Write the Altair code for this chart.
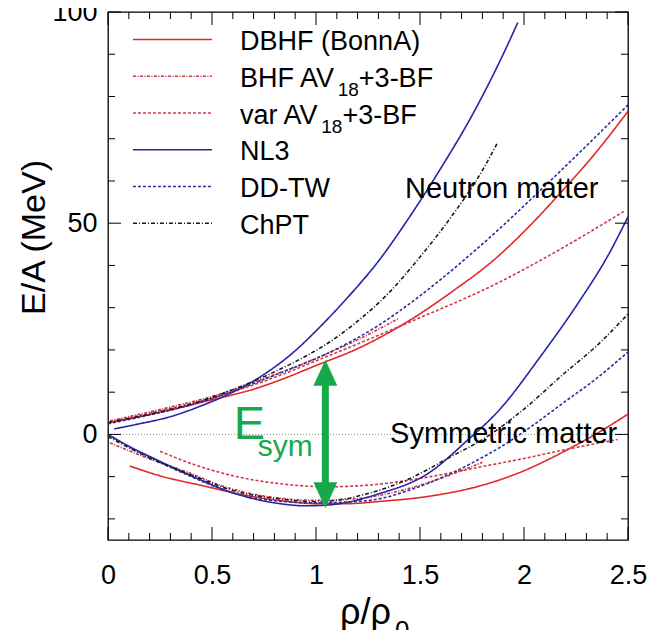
import altair as alt
import pandas as pd

FONT = "Liberation Sans"
W, H = 520, 528

MODELS = ["DBHF (BonnA)", "BHF AV18+3-BF", "var AV18+3-BF", "NL3", "DD-TW", "ChPT"]
COLORS = ["#e02828", "#cc3344", "#d03a48", "#2424aa", "#2d2d9e", "#1a1a1a"]
DASHES = [[1, 0], [3, 1.5, 1, 1.5], [3, 2], [1, 0], [3, 2], [4, 2, 1, 2]]
GREEN = "#17a84b"

# ---- neutron matter ----
dbhf_n_x = [0.01, 0.3, 0.5, 0.7, 0.85, 1.0, 1.2, 1.46, 1.66, 1.86, 2.0, 2.19, 2.35, 2.5]
dbhf_n_y = [2.8, 5.8, 8.2, 10.7, 13.3, 16.3, 20.3, 27.3, 34.0, 41.5, 48.0, 58.0, 67.0, 76.5]
bhf_n_x = [0.01, 0.25, 0.5, 0.75, 1.0, 1.2, 1.4]
bhf_n_y = [3.2, 5.9, 9.0, 13.2, 18.0, 22.4, 27.5]
var_n_x = [0.01, 0.25, 0.5, 0.75, 1.06, 1.46, 1.86, 2.18, 2.48]
var_n_y = [3.0, 5.6, 8.6, 12.6, 18.6, 26.8, 35.5, 44.0, 52.8]
nl3_n_x = [0.03, 0.15, 0.3, 0.45, 0.6, 0.75, 0.9, 1.0, 1.15, 1.3, 1.45, 1.6, 1.75, 1.9, 1.97]
nl3_n_y = [1.3, 2.5, 4.2, 6.8, 10.0, 14.2, 19.8, 24.5, 32.3, 41.0, 51.5, 63.0, 75.5, 90.0, 97.5]
ddtw_n_x = [0.0, 0.2, 0.4, 0.6, 0.8, 1.06, 1.3, 1.5, 1.7, 1.9, 2.1, 2.3, 2.5]
ddtw_n_y = [2.5, 4.6, 7.0, 10.2, 14.0, 19.3, 25.8, 32.8, 40.8, 49.5, 58.8, 68.3, 78.0]
chpt_n_x = [0.0, 0.2, 0.4, 0.6, 0.8, 0.95, 1.06, 1.2, 1.35, 1.5, 1.65, 1.8, 1.87]
chpt_n_y = [2.8, 4.8, 7.2, 10.6, 14.8, 18.5, 21.7, 26.8, 33.5, 42.0, 51.5, 62.5, 68.8]

# ---- symmetric matter ----
dbhf_s_x = [0.105, 0.25, 0.46, 0.65, 0.85, 1.0, 1.15, 1.3, 1.55, 1.78, 1.97, 2.24, 2.37, 2.5]
dbhf_s_y = [-7.5, -9.8, -12.2, -14.3, -15.8, -16.4, -16.4, -15.9, -14.6, -12.3, -9.2, -2.8, 0.8, 4.8]
bhf_s_x = [0.01, 0.2, 0.38, 0.55, 0.75, 1.0, 1.2, 1.4, 1.6, 1.8]
bhf_s_y = [-2.0, -5.8, -8.9, -12.2, -14.6, -15.6, -15.2, -13.4, -10.4, -6.6]
var_s_x = [0.25, 0.4, 0.61, 0.85, 1.06, 1.3, 1.55, 1.78, 2.0, 2.2, 2.45]
var_s_y = [-4.0, -6.9, -9.9, -11.8, -12.4, -11.8, -10.0, -7.8, -5.7, -3.6, -1.2]
nl3_s_x = [0.0, 0.1, 0.225, 0.4, 0.61, 0.8, 0.95, 1.06, 1.3, 1.54, 1.73, 1.876, 2.08, 2.27, 2.4, 2.5]
nl3_s_y = [0.0, -2.8, -5.8, -9.8, -14.0, -16.2, -16.9, -16.7, -14.1, -9.2, -1.3, 5.5, 18.5, 31.8, 42.0, 51.5]
ddtw_s_x = [0.0, 0.1, 0.225, 0.4, 0.61, 0.8, 1.0, 1.15, 1.3, 1.46, 1.62, 1.76, 1.9, 2.05, 2.19, 2.35, 2.5]
ddtw_s_y = [0.0, -2.9, -6.0, -10.0, -14.0, -15.7, -16.2, -16.0, -15.3, -13.0, -9.9, -6.5, -2.6, 2.4, 7.5, 13.3, 19.5]
chpt_s_x = [0.0, 0.2, 0.4, 0.61, 0.8, 1.0, 1.06, 1.25, 1.44, 1.64, 1.83, 2.0, 2.19, 2.35, 2.5]
chpt_s_y = [-0.5, -5.6, -9.6, -13.4, -15.1, -15.9, -15.8, -14.0, -10.7, -5.5, -0.3, 6.0, 14.3, 21.0, 28.5]

CURVES = [
    (MODELS[0], "n", dbhf_n_x, dbhf_n_y), (MODELS[0], "s", dbhf_s_x, dbhf_s_y),
    (MODELS[1], "n", bhf_n_x, bhf_n_y), (MODELS[1], "s", bhf_s_x, bhf_s_y),
    (MODELS[2], "n", var_n_x, var_n_y), (MODELS[2], "s", var_s_x, var_s_y),
    (MODELS[3], "n", nl3_n_x, nl3_n_y), (MODELS[3], "s", nl3_s_x, nl3_s_y),
    (MODELS[4], "n", ddtw_n_x, ddtw_n_y), (MODELS[4], "s", ddtw_s_x, ddtw_s_y),
    (MODELS[5], "n", chpt_n_x, chpt_n_y), (MODELS[5], "s", chpt_s_x, chpt_s_y),
]

# ticks
x_major = [0, 0.5, 1, 1.5, 2, 2.5]
x_minor = [round(i * 0.1, 2) for i in range(26) if i % 5 != 0]
y_major = [0, 50, 100]
y_minor = [v for v in range(-20, 100, 10) if v % 50 != 0]

# legend text pieces (main text, subscript, tail) and their data-space positions
LEG_MAIN = ["DBHF (BonnA)", "BHF AV", "var AV", "NL3", "DD-TW", "ChPT"]
LEG_SUB = ["", "18", "18", "", "", ""]
LEG_TAIL = ["", "+3-BF", "+3-BF", "", "", ""]
legend_line_x = [0.12, 0.50]
legend_text_x = 0.635
legend_sub_x = [0.0, 1.104, 1.025, 0.0, 0.0, 0.0]
legend_tail_x = [0.0, 1.206, 1.127, 0.0, 0.0, 0.0]
legend_line_y = [93.5, 84.8, 76.1, 67.4, 58.7, 50.0]
legend_text_y = [91.0, 82.3, 73.6, 64.9, 56.2, 47.4]
SUB_DROP = 2.2

arrow_x = 1.045
arrow_top = 14.6
arrow_bot = -14.4
shaft = [12.0, -12.0]

rows = []
for i, (m, mat, xs, ys) in enumerate(CURVES):
    for k, (xv, yv) in enumerate(zip(xs, ys)):
        rows.append({"model": m, "curve": f"{i}-{mat}", "x": xv, "y": yv, "o": k})
df = pd.DataFrame(rows)

xscale = alt.Scale(domain=[0, 2.5], nice=False, zero=False)
yscale = alt.Scale(domain=[-25, 100], nice=False, zero=False)
cscale = alt.Scale(domain=MODELS, range=COLORS)
dscale = alt.Scale(domain=MODELS, range=DASHES)

xaxis = alt.Axis(values=x_major, format="~g", ticks=False, domain=False, grid=False,
                 labelFontSize=27, labelFont=FONT, labelColor="black", labelPadding=22,
                 labelFlush=False, labelOverlap=False, title=None)
yaxis = alt.Axis(values=y_major, format="d", ticks=False, domain=False, grid=False,
                 labelFontSize=27, labelFont=FONT, labelColor="black", labelPadding=11,
                 labelFlush=False, labelOverlap=False,
                 title="E/A (MeV)", titleFont=FONT, titleFontSize=34, titleFontWeight="normal",
                 titleColor="black", titleX=-74, titleY=225, titleAngle=270,
                 titleAlign="center", titleBaseline="middle")


def txt(d, size, color="black", align="left"):
    return alt.Chart(pd.DataFrame(d)).mark_text(
        align=align, baseline="alphabetic", fontSize=size, font=FONT, color=color).encode(
        x=alt.X("x:Q", scale=xscale), y=alt.Y("y:Q", scale=yscale), text="t:N")


zero = alt.Chart(pd.DataFrame({"y": [0]})).mark_rule(
    color="#777777", strokeWidth=0.8, strokeDash=[1, 2]).encode(
    y=alt.Y("y:Q", scale=yscale, axis=yaxis))

lines = alt.Chart(df).mark_line(interpolate="monotone", strokeWidth=1.6).encode(
    x=alt.X("x:Q", scale=xscale, axis=xaxis),
    y=alt.Y("y:Q", scale=yscale, axis=yaxis),
    color=alt.Color("model:N", scale=cscale, legend=None),
    strokeDash=alt.StrokeDash("model:N", scale=dscale, legend=None),
    detail="curve:N",
    order="o:Q",
)


def xticks(vals, length):
    d = pd.DataFrame({"x": vals})
    base = alt.Chart(d).mark_rule(color="black", strokeWidth=1)
    return [
        base.encode(x=alt.X("x:Q", scale=xscale), y=alt.value(H), y2=alt.value(H - length)),
        base.encode(x=alt.X("x:Q", scale=xscale), y=alt.value(0), y2=alt.value(length)),
    ]


def yticks(vals, length):
    d = pd.DataFrame({"y": vals})
    base = alt.Chart(d).mark_rule(color="black", strokeWidth=1)
    return [
        base.encode(y=alt.Y("y:Q", scale=yscale), x=alt.value(0), x2=alt.value(length)),
        base.encode(y=alt.Y("y:Q", scale=yscale), x=alt.value(W), x2=alt.value(W - length)),
    ]


ticks = xticks(x_major, 13) + xticks(x_minor, 7) + yticks(y_major, 13) + yticks(y_minor, 7)

leg_df = pd.DataFrame({
    "model": MODELS,
    "x": [legend_line_x[0]] * 6,
    "x2": [legend_line_x[1]] * 6,
    "y": legend_line_y,
})
leg_lines = alt.Chart(leg_df).mark_rule(strokeWidth=1.6).encode(
    x=alt.X("x:Q", scale=xscale), x2="x2:Q", y=alt.Y("y:Q", scale=yscale),
    color=alt.Color("model:N", scale=cscale, legend=None),
    strokeDash=alt.StrokeDash("model:N", scale=dscale, legend=None),
)
leg_main = txt({"x": [legend_text_x] * 6, "y": legend_text_y, "t": LEG_MAIN}, 27)
sub_idx = [i for i, s in enumerate(LEG_SUB) if s]
leg_sub = txt({"x": [legend_sub_x[i] for i in sub_idx],
               "y": [legend_text_y[i] - SUB_DROP for i in sub_idx],
               "t": [LEG_SUB[i] for i in sub_idx]}, 19)
leg_tail = txt({"x": [legend_tail_x[i] for i in sub_idx],
                "y": [legend_text_y[i] for i in sub_idx],
                "t": [LEG_TAIL[i] for i in sub_idx]}, 27)

ann = txt({"x": [1.428, 1.356], "y": [55.9, -2.0],
           "t": ["Neutron matter", "Symmetric matter"]}, 29)

# x-axis title rho/rho0 written as text (with a real subscript)
xtitle = txt({"x": [1.115], "y": [-44.8], "t": ["ρ/ρ"]}, 36)
xtitle_sub = txt({"x": [1.38], "y": [-48.4], "t": ["0"]}, 26)

shaft_df = pd.DataFrame({"x": [arrow_x], "y": [shaft[0]], "y2": [shaft[1]]})
arrow_shaft = alt.Chart(shaft_df).mark_rule(color=GREEN, strokeWidth=7).encode(
    x=alt.X("x:Q", scale=xscale), y=alt.Y("y:Q", scale=yscale), y2="y2:Q")
head_up = alt.Chart(pd.DataFrame({"x": [arrow_x], "y": [arrow_top]})).mark_point(
    shape="M0,-1L0.92,1L-0.92,1Z", filled=True, size=676, color=GREEN, opacity=1,
    strokeWidth=0).encode(x=alt.X("x:Q", scale=xscale), y=alt.Y("y:Q", scale=yscale))
head_down = alt.Chart(pd.DataFrame({"x": [arrow_x], "y": [arrow_bot]})).mark_point(
    shape="M0,1L0.92,-1L-0.92,-1Z", filled=True, size=676, color=GREEN, opacity=1,
    strokeWidth=0).encode(x=alt.X("x:Q", scale=xscale), y=alt.Y("y:Q", scale=yscale))

esym_E = txt({"x": [0.604], "y": [-1.2], "t": ["E"]}, 47, GREEN)
esym_sub = txt({"x": [0.72], "y": [-5.1], "t": ["sym"]}, 30, GREEN)

chart = alt.layer(
    zero, lines, *ticks, leg_lines, leg_main, leg_sub, leg_tail, ann,
    xtitle, xtitle_sub, arrow_shaft, head_up, head_down, esym_E, esym_sub,
).properties(
    width=W, height=H,
    autosize=alt.AutoSizeParams(type="none"),
    padding={"left": 100, "top": 4, "right": 20, "bottom": 90},
    background="white",
).configure_view(stroke="black", strokeWidth=1.3)

chart.save("out.html", embed_options={"renderer": "svg", "actions": False})
